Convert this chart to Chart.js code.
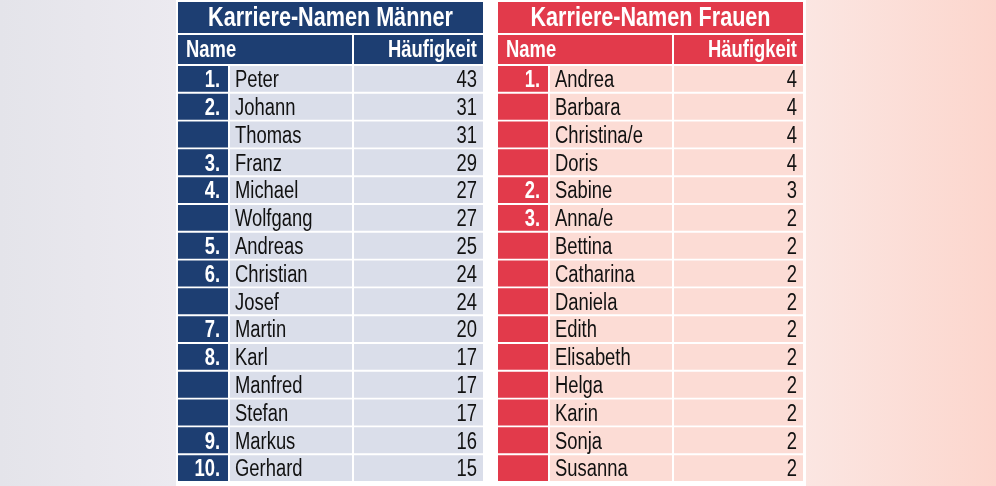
<!DOCTYPE html>
<html><head><meta charset="utf-8">
<script src="https://cdn.jsdelivr.net/npm/chart.js@4/dist/chart.umd.min.js"></script>
<style>html,body{margin:0;padding:0;background:#fff}#c{display:block}</style>
</head><body>
<div style="width:996px;height:486px"><canvas id="c"></canvas></div>
<script>
const menRanks = ["1.","2.","","3.","4.","","5.","6.","","7.","8.","","","9.","10."];
const menNames = ["Peter","Johann","Thomas","Franz","Michael","Wolfgang","Andreas","Christian","Josef","Martin","Karl","Manfred","Stefan","Markus","Gerhard"];
const menCounts = [43,31,31,29,27,27,25,24,24,20,17,17,17,16,15];
const womenRanks = ["1.","","","","2.","3.","","","","","","","","",""];
const womenNames = ["Andrea","Barbara","Christina/e","Doris","Sabine","Anna/e","Bettina","Catharina","Daniela","Edith","Elisabeth","Helga","Karin","Sonja","Susanna"];
const womenCounts = [4,4,4,4,3,2,2,2,2,2,2,2,2,2,2];
const rows = menNames.map((_, i) => String(i));

const NAVY = '#1d3e72', MEN_BG = '#dadeea', RED = '#e23a4b', WOMEN_BG = '#fcdcd5';
const FONT = '"Liberation Sans",Arial,sans-serif';
const SQ = 0.8; // horizontal squeeze to imitate a condensed face

const men = {x0:178, r:228, n:352, x1:483};
const women = {x0:498, r:548, n:672, x1:803};

function cells(t, key, color) {
  const span = key === 'r' ? [t.x0, t.r] : key === 'n' ? [t.r + 2, t.n] : [t.n + 2, t.x1];
  return {data: rows.map(() => span), backgroundColor: color, grouped: false,
          barPercentage: 1, categoryPercentage: 0.93, borderWidth: 0};
}

function text(c, s, x, y, align) {
  c.save();
  c.translate(x, y);
  c.scale(SQ, 1);
  c.textAlign = align;
  c.fillText(s, 0, 0);
  c.restore();
}

const tablePlugin = {
  id: 'table',
  beforeDraw(chart) {
    const c = chart.ctx;
    c.save();
    let g = c.createLinearGradient(0, 0, 176, 0);
    g.addColorStop(0, '#e4e4ea'); g.addColorStop(1, '#eceaf0');
    c.fillStyle = g; c.fillRect(0, 0, 176, 486);
    g = c.createLinearGradient(806, 0, 996, 0);
    g.addColorStop(0, '#fbe6e2'); g.addColorStop(1, '#fcd6cd');
    c.fillStyle = g; c.fillRect(806, 0, 190, 486);
    [[men, NAVY, 'Karriere-Namen Männer'], [women, RED, 'Karriere-Namen Frauen']].forEach(([t, col, title]) => {
      c.fillStyle = col;
      c.fillRect(t.x0, 2, t.x1 - t.x0, 31);
      c.fillRect(t.x0, 35, t.n - t.x0, 29);
      c.fillRect(t.n + 2, 35, t.x1 - t.n - 2, 29);
      c.fillStyle = '#fff';
      c.textBaseline = 'middle';
      c.font = 'bold 27px ' + FONT;
      text(c, title, (t.x0 + t.x1) / 2, 19, 'center');
      c.font = 'bold 23px ' + FONT;
      text(c, 'Name', t.x0 + 8, 51, 'left');
      text(c, 'Häufigkeit', t.x1 - 6, 51, 'right');
    });
    c.restore();
  },
  afterDatasetsDraw(chart) {
    const c = chart.ctx, y = chart.scales.y;
    c.save();
    c.textBaseline = 'middle';
    [[men, menRanks, menNames, menCounts], [women, womenRanks, womenNames, womenCounts]].forEach(([t, rk, nm, ct]) => {
      rows.forEach((r, i) => {
        const py = y.getPixelForValue(i) + 2;
        c.font = 'bold 23px ' + FONT; c.fillStyle = '#fff';
        text(c, rk[i], t.r - 8, py, 'right');
        c.font = '23px ' + FONT; c.fillStyle = '#111';
        text(c, nm[i], t.r + 7, py, 'left');
        text(c, String(ct[i]), t.x1 - 6, py, 'right');
      });
    });
    c.restore();
  }
};

new Chart(document.getElementById('c'), {
  type: 'bar',
  data: {
    labels: rows,
    datasets: [
      cells(men, 'r', NAVY), cells(men, 'n', MEN_BG), cells(men, 'v', MEN_BG),
      cells(women, 'r', RED), cells(women, 'n', WOMEN_BG), cells(women, 'v', WOMEN_BG)
    ]
  },
  options: {
    indexAxis: 'y',
    responsive: true,
    maintainAspectRatio: false,
    animation: false,
    layout: {padding: {top: 65, bottom: 4, left: 0, right: 0}},
    plugins: {legend: {display: false}, tooltip: {enabled: false}},
    scales: {
      x: {type: 'linear', min: 0, max: 996, display: false},
      y: {display: false}
    }
  },
  plugins: [tablePlugin]
});
</script>
</body></html>
